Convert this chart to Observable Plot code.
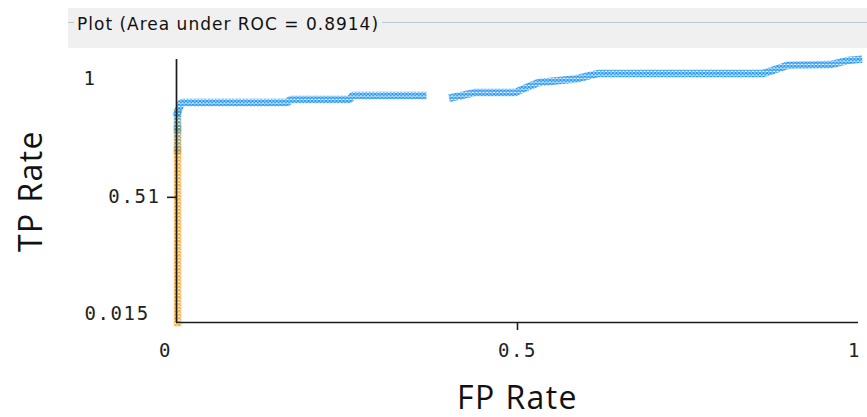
<!DOCTYPE html>
<html>
<head>
<meta charset="utf-8">
<script src="https://cdn.jsdelivr.net/npm/d3@7"></script>
<script src="https://cdn.jsdelivr.net/npm/@observablehq/plot@0.6"></script>
<style>
  html, body { margin: 0; padding: 0; background: #fff; }
  #page { position: relative; width: 867px; height: 417px; overflow: hidden; background: #fff; }
  #band { position: absolute; left: 68px; top: 8px; width: 799px; height: 40px; background: #f0f0f0; }
  #rule { position: absolute; left: 68px; right: 0; top: 22px; height: 1px; background: #bcc7d5; }
  #title { position: absolute; left: 74px; top: 14px; padding: 0 3px; background: #f0f0f0;
           font: 17px "DejaVu Sans", sans-serif; line-height: 20px; letter-spacing: 1px; color: #111; white-space: nowrap; }
  #chart { position: absolute; left: 0; top: 48px; }
  #chart g[aria-label$="tick label"] text { letter-spacing: 1.6px; }
  #chart g[aria-label$="axis label"] text { letter-spacing: 1.4px; }
</style>
</head>
<body>
<!-- cross-hatch paints used for the threshold point markers -->
<svg width="0" height="0" style="position:absolute">
  <defs>
    <pattern id="crossOrange" patternUnits="userSpaceOnUse" width="3.5" height="3.5">
      <path d="M0,0L3.5,3.5M0,3.5L3.5,0" stroke="#ffa92e" stroke-width="1.3"/>
    </pattern>
    <pattern id="crossOlive" patternUnits="userSpaceOnUse" width="3.5" height="3.5">
      <path d="M0,0L3.5,3.5M0,3.5L3.5,0" stroke="#a39c5c" stroke-width="1.3"/>
    </pattern>
    <pattern id="crossTeal" patternUnits="userSpaceOnUse" width="3.5" height="3.5">
      <path d="M0,0L3.5,3.5M0,3.5L3.5,0" stroke="#5f9ea3" stroke-width="1.3"/>
    </pattern>
    <pattern id="crossBlue" patternUnits="userSpaceOnUse" width="3.5" height="3.5">
      <path d="M0,0L3.5,3.5M0,3.5L3.5,0" stroke="#2196f0" stroke-width="1.3"/>
    </pattern>
  </defs>
</svg>
<div id="page">
  <div id="band"></div>
  <div id="rule"></div>
  <div id="title">Plot (Area under ROC = 0.8914)</div>
  <div id="chart"></div>
</div>
<script>
// ROC curve vertices (false-positive rate, true-positive rate)
const fpRate = [0.0015, 0.0015,
                0.0015, 0.0015,
                0.0015, 0.0015,
                0.0015, 0.007, 0.163, 0.167, 0.254, 0.258, 0.361,
                0.405, 0.437, 0.496, 0.520, 0.531, 0.585, 0.619, 0.861, 0.896, 0.959, 0.984, 1.0];
const tpRate = [0.015, 0.66,
                0.66, 0.74,
                0.74, 0.80,
                0.80, 0.839, 0.839, 0.850, 0.850, 0.865, 0.865,
                0.858, 0.876, 0.876, 0.903, 0.914, 0.927, 0.948, 0.948, 0.978, 0.981, 0.996, 1.0];
// contiguous runs of threshold points
const segment = ["a", "a",
                 "b", "b",
                 "c", "c",
                 "d", "d", "d", "d", "d", "d", "d",
                 "e", "e", "e", "e", "e", "e", "e", "e", "e", "e", "e", "e"];
// threshold level of each run
const thresholdBand = ["high", "high",
                       "upper", "upper",
                       "middle", "middle",
                       "low", "low", "low", "low", "low", "low", "low",
                       "low", "low", "low", "low", "low", "low", "low", "low", "low", "low", "low", "low"];

const bandLevels = ["high", "upper", "middle", "low"];
const bandPaints = ["url(#crossOrange)", "url(#crossOlive)", "url(#crossTeal)", "url(#crossBlue)"];

// axis tick values
const yTickMid = [0.51];
const yTickTop = [1];
const yTickBottom = [0.015];
const xTickMid = [0.5];
const xTickStart = [0];
const xTickEnd = [1];

const rows = fpRate.map((x, i) => ({fpr: x, tpr: tpRate[i], seg: segment[i], band: thresholdBand[i]}));

const plain = (d) => `${d}`;
const mono = {fontFamily: "DejaVu Sans Mono", fontSize: 19, fill: "#222", label: null, tickFormat: plain};
const axisInk = "#1c1c1c";
const titleFont = {fontFamily: "Open Sans", fontSize: 32, fill: "#111", tickSize: 0, labelAnchor: "center", labelArrow: "none"};

const chart = Plot.plot({
  width: 867,
  height: 369,
  marginLeft: 176,
  marginRight: 9,
  marginTop: 11,
  marginBottom: 95,
  x: {domain: [0, 1], label: null},
  y: {domain: [0.015, 1], label: null},
  color: {type: "ordinal", domain: bandLevels, range: bandPaints},
  marks: [
    Plot.line(rows, {x: "fpr", y: "tpr", z: "seg", stroke: "band", strokeWidth: 7.5, strokeLinecap: "square", strokeLinejoin: "miter"}),
    Plot.ruleX([0], {y1: 0.015, y2: 1, stroke: axisInk, strokeWidth: 1.7}),
    Plot.ruleY([0.015], {x1: 0, x2: 1, stroke: axisInk, strokeWidth: 1.7}),
    Plot.axisY(yTickMid, {...mono, tickSize: 9, tickPadding: 7, dy: 7, stroke: axisInk, strokeWidth: 1.6}),
    Plot.axisY(yTickTop, {...mono, tickSize: 0, tickPadding: 0, dx: -93, dy: 19, textAnchor: "start"}),
    Plot.axisY(yTickBottom, {...mono, tickSize: 0, tickPadding: 0, dx: -92, dy: -9, textAnchor: "start"}),
    Plot.axisX(xTickMid, {...mono, tickSize: 8, tickPadding: 13, stroke: axisInk, strokeWidth: 1.6}),
    Plot.axisX(xTickStart, {...mono, tickSize: 0, tickPadding: 21, dx: -11}),
    Plot.axisX(xTickEnd, {...mono, tickSize: 0, tickPadding: 21, dx: -4}),
    Plot.axisX([], {...titleFont, label: "FP Rate", labelOffset: 86}),
    Plot.axisY([], {...titleFont, label: "TP Rate", labelOffset: 157})
  ]
});

document.getElementById("chart").appendChild(chart);
</script>
</body>
</html>
